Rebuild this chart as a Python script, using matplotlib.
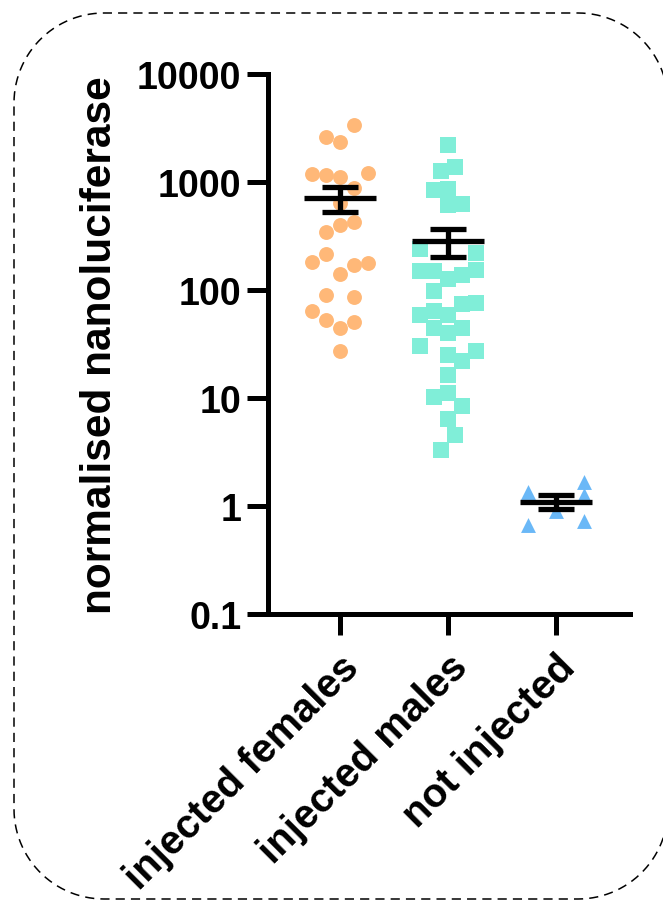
import numpy as np
import matplotlib
matplotlib.use('Agg')
import matplotlib.pyplot as plt
from matplotlib.lines import Line2D

# groups on the x axis
categories = ['injected females', 'injected males', 'not injected']

# values
females = [3350, 2626, 2360, 1186, 1153, 1120, 1211, 880, 640, 426, 397, 344,
           215, 182, 171, 178, 141, 90, 86, 64, 53, 51, 44.5, 27]
males = [2188, 1368, 1274, 849, 867, 625, 609, 241, 220, 151, 149, 126, 139,
         154, 97, 74, 76, 58, 64, 58, 44.5, 40, 44.5, 30, 24.8, 27, 22, 16.4,
         10.1, 11.1, 8.4, 6.4, 4.5, 3.3]
not_injected = [1.348, 1.668, 1.273, 0.893, 0.663, 0.731]

# swarm slot of each point (column inside the group)
females_slot = [1, -1, 0, -2, -1, 0, 2, 1, 0, 1, 0, -1, -1, -2, 1, 2, 0, -1,
                1, -2, -1, 1, 0, 0]
males_slot = [0, 0.5, -0.5, -1, 0, 1, 0, -2, 2, -2, -1, 0, 1, 2, -1, 1, 2,
              -2, -1, 0, -1, 0, 1, -2, 0, 2, 1, 0, -1, 0, 1, 0, 0.5, -0.5]
not_injected_slot = [-2, 2, 2, 0, -2, 2]

yticks = [0.1, 1, 10, 100, 1000, 10000]
ytick_labels = ['0.1', '1', '10', '100', '1000', '10000']

plt.rcParams['font.family'] = ['Liberation Sans', 'DejaVu Sans']
plt.rcParams['font.weight'] = 'bold'

fig = plt.figure(figsize=(6.63, 9.03), dpi=100)
ax = fig.add_axes([0.404, 0.319, 0.546, 0.598])

groups = [
    (females, females_slot, 'o', '#FFB878', 115),
    (males, males_slot, 's', '#80EED8', 135),
    (not_injected, not_injected_slot, '^', '#6AB8F7', 115),
]
slot_w = 0.13
for i, (vals, slots, marker, color, size) in enumerate(groups):
    vals = np.array(vals)
    xs = i + np.array(slots) * slot_w
    ax.scatter(xs, vals, marker=marker, s=size, color=color, linewidths=0, zorder=2)

    mean = vals.mean()
    sem = vals.std(ddof=1) / np.sqrt(len(vals))
    # mean line + SEM bars
    ax.plot([i - 0.335, i + 0.335], [mean, mean], color='black', lw=3.8,
            solid_capstyle='butt', zorder=3)
    ax.plot([i, i], [mean - sem, mean + sem], color='black', lw=3.8,
            solid_capstyle='butt', zorder=3)
    for y in (mean - sem, mean + sem):
        ax.plot([i - 0.167, i + 0.167], [y, y], color='black', lw=3.8,
                solid_capstyle='butt', zorder=3)

ax.set_yscale('log')
ax.set_ylim(0.1, 10000)
ax.set_xlim(-0.667, 2.685)
ax.yaxis.set_major_locator(matplotlib.ticker.FixedLocator(yticks))
ax.yaxis.set_minor_locator(matplotlib.ticker.NullLocator())
ax.set_yticklabels(ytick_labels, fontsize=27, fontweight='bold')
ax.set_xticks(range(len(categories)))
ax.set_xticklabels(categories, fontsize=29, fontweight='bold', rotation=45,
                   ha='right', va='top', rotation_mode='anchor')

ax.set_ylabel('normalised nanoluciferase', fontsize=30.5, fontweight='bold',
              labelpad=12)

for side in ['top', 'right']:
    ax.spines[side].set_visible(False)
for side in ['left', 'bottom']:
    ax.spines[side].set_linewidth(3.6)
    ax.spines[side].set_capstyle('projecting')
ax.tick_params(axis='both', length=15, width=3.6, colors='black', pad=4)
ax.tick_params(axis='x', pad=9)
ax.set_facecolor('none')

# dashed rounded frame around the whole panel (inches)
x0, x1, y0, y1, r = 0.14, 6.68, 0.03, 8.89, 0.9
t = np.linspace(0, np.pi / 2, 30)
fx = np.concatenate([x1 - r + r * np.cos(t), x0 + r - r * np.sin(t),
                     x0 + r - r * np.cos(t), x1 - r + r * np.sin(t), [x1]])
fy = np.concatenate([y1 - r + r * np.sin(t), y1 - r + r * np.cos(t),
                     y0 + r - r * np.sin(t), y0 + r - r * np.cos(t), [y1 - r]])
frame = Line2D(fx, fy, transform=fig.dpi_scale_trans, color='black', lw=1.1,
               linestyle=(0, (6, 4)))
fig.lines.append(frame)

fig.savefig('out.png', dpi=100)
